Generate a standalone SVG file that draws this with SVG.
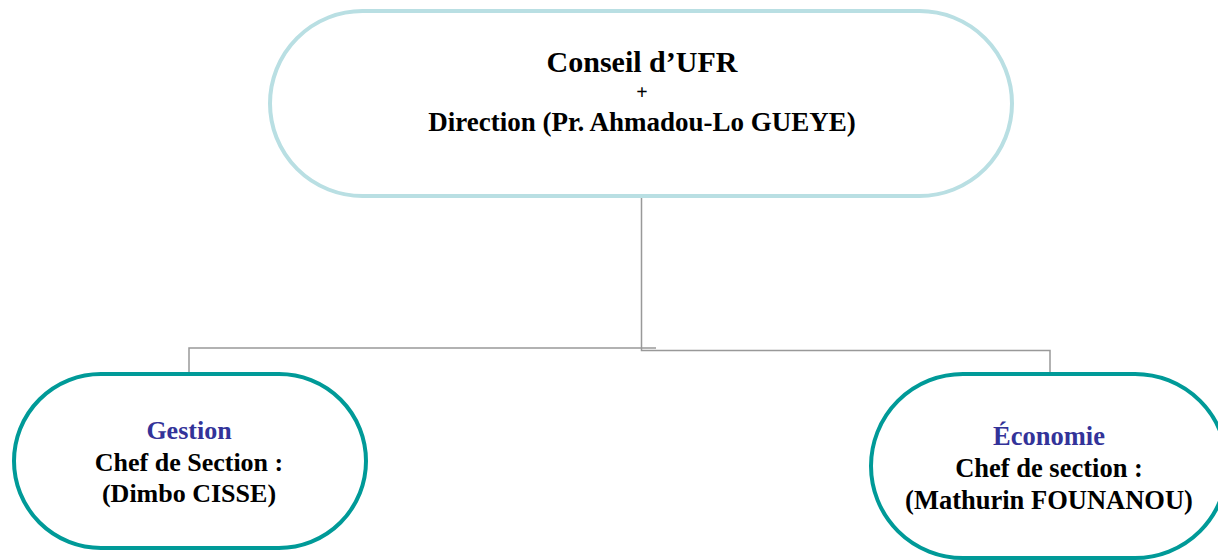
<svg xmlns="http://www.w3.org/2000/svg" width="1218" height="560" viewBox="0 0 1218 560">
<style>
text{font-family:"Liberation Serif","Times New Roman",serif;font-weight:bold;text-anchor:middle;fill:#000}
.top{fill:#fff;stroke:#b9dfe3;stroke-width:4}
.sub{fill:#fff;stroke:#009a98;stroke-width:4}
.h{fill:#333399}
.conn{fill:none;stroke:#999;stroke-width:1.5}
</style>
<rect width="1218" height="560" fill="#fff"/>
<g id="connectors">
<path class="conn" d="M641.5,198 V350.5 H1050 V374"/>
<path class="conn" d="M656,348 H189 V374"/>
</g>
<g id="node-conseil">
<rect class="top" x="270" y="11" width="742" height="185" rx="92.5"/>
<text x="642" y="72" font-size="30">Conseil d’UFR</text>
<text x="642" y="99" font-size="20" font-weight="normal">+</text>
<text x="642" y="131" font-size="27">Direction (Pr. Ahmadou-Lo GUEYE)</text>
</g>
<g id="node-gestion">
<rect class="sub" x="14" y="374" width="352" height="174" rx="87"/>
<text class="h" x="189" y="439" font-size="26">Gestion</text>
<text x="189" y="471" font-size="26">Chef de Section :</text>
<text x="189" y="502" font-size="26">(Dimbo CISSE)</text>
</g>
<g id="node-economie">
<rect class="sub" x="871" y="374" width="356" height="184" rx="92"/>
<text class="h" x="1049" y="445" font-size="26.5">Économie</text>
<text x="1049" y="477" font-size="26.5">Chef de section :</text>
<text x="1049" y="509" font-size="26.5">(Mathurin FOUNANOU)</text>
</g>
</svg>
